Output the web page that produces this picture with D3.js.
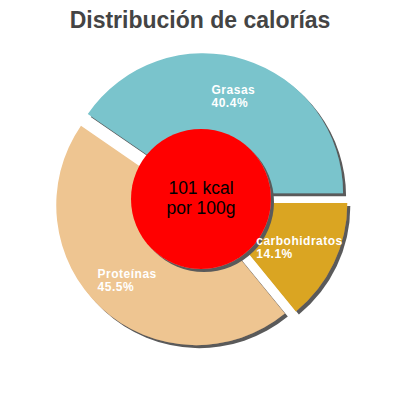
<!DOCTYPE html>
<html>
<head>
<meta charset="utf-8">
<script src="https://cdn.jsdelivr.net/npm/d3@7"></script>
<style>
  body { margin: 0; background: #fff; }
  svg { display: block; font-family: "Liberation Sans", Arial, sans-serif; }
</style>
</head>
<body>
<script>
var width = 400,
    height = 400;

// values
var categories = ["Grasas", "carbohidratos", "Proteínas"];
var percents = [40.4, 14.1, 45.5];
var colors = ["#7ac4cc", "#daa520", "#eec591"];
var centerLines = ["101 kcal", "por 100g"];
var title = "Distribución de calorías";

var cx = 201, cy = 200,
    radius = 140,
    explode = 7,
    labelR = 109,
    holeR = 70;

var svg = d3.select("body").append("svg")
    .attr("width", width)
    .attr("height", height);

var defs = svg.append("defs");
defs.append("filter")
    .attr("id", "shadow")
    .attr("x", "-10%").attr("y", "-10%")
    .attr("width", "130%").attr("height", "130%")
  .append("feDropShadow")
    .attr("dx", 3).attr("dy", 3)
    .attr("stdDeviation", 0.5)
    .attr("flood-color", "#5a5a5a")
    .attr("flood-opacity", 1);

svg.append("text")
    .attr("x", width / 2)
    .attr("y", 28)
    .attr("text-anchor", "middle")
    .style("font-size", "23px")
    .style("font-weight", "bold")
    .style("fill", "#444")
    .text(title);

// grasas ends at 3 o'clock
var start = Math.PI / 2 - percents[0] / 100 * 2 * Math.PI;
var pie = d3.pie().sort(null)
    .startAngle(start)
    .endAngle(start + 2 * Math.PI);
var arcs = pie(percents);

var arc = d3.arc().innerRadius(0).outerRadius(radius);

function dir(d) {
  var a = (d.startAngle + d.endAngle) / 2;
  return [Math.sin(a), -Math.cos(a)];
}

var g = svg.append("g").attr("transform", "translate(" + cx + "," + cy + ")");

g.selectAll("path.slice")
    .data(arcs)
  .enter().append("path")
    .attr("class", "slice")
    .attr("d", arc)
    .attr("fill", function(d, i) { return colors[i]; })
    .attr("filter", "url(#shadow)")
    .attr("transform", function(d) {
      var u = dir(d);
      return "translate(" + (u[0] * explode) + "," + (u[1] * explode) + ")";
    });

g.append("circle")
    .attr("cx", 0).attr("cy", -1)
    .attr("r", holeR)
    .attr("fill", "#ff0000")
    .attr("filter", "url(#shadow)");

g.append("text")
    .attr("text-anchor", "middle")
    .style("font-size", "17.5px")
    .style("fill", "#000")
  .selectAll("tspan")
    .data(centerLines)
  .enter().append("tspan")
    .attr("x", 0)
    .attr("y", function(d, i) { return -6 + i * 19.5; })
    .text(function(d) { return d; });

var labels = g.selectAll("g.label")
    .data(arcs)
  .enter().append("g")
    .attr("class", "label");

labels.each(function(d, i) {
  var el = d3.select(this);
  var t = el.append("text")
      .style("font-size", "12px")
      .style("font-weight", "bold")
      .style("letter-spacing", "0.5px")
      .style("fill", "#fff");
  t.append("tspan").attr("x", 0).attr("y", 0).text(categories[i]);
  t.append("tspan").attr("x", 0).attr("y", 13).text(percents[i].toFixed(1) + "%");
  var w = t.node().getBBox().width;
  var u = dir(d);
  var ax = u[0] * labelR, ay = u[1] * labelR;
  el.attr("transform", "translate(" + (ax - w / 2) + "," + (ay - 2) + ")");
});
</script>
</body>
</html>
